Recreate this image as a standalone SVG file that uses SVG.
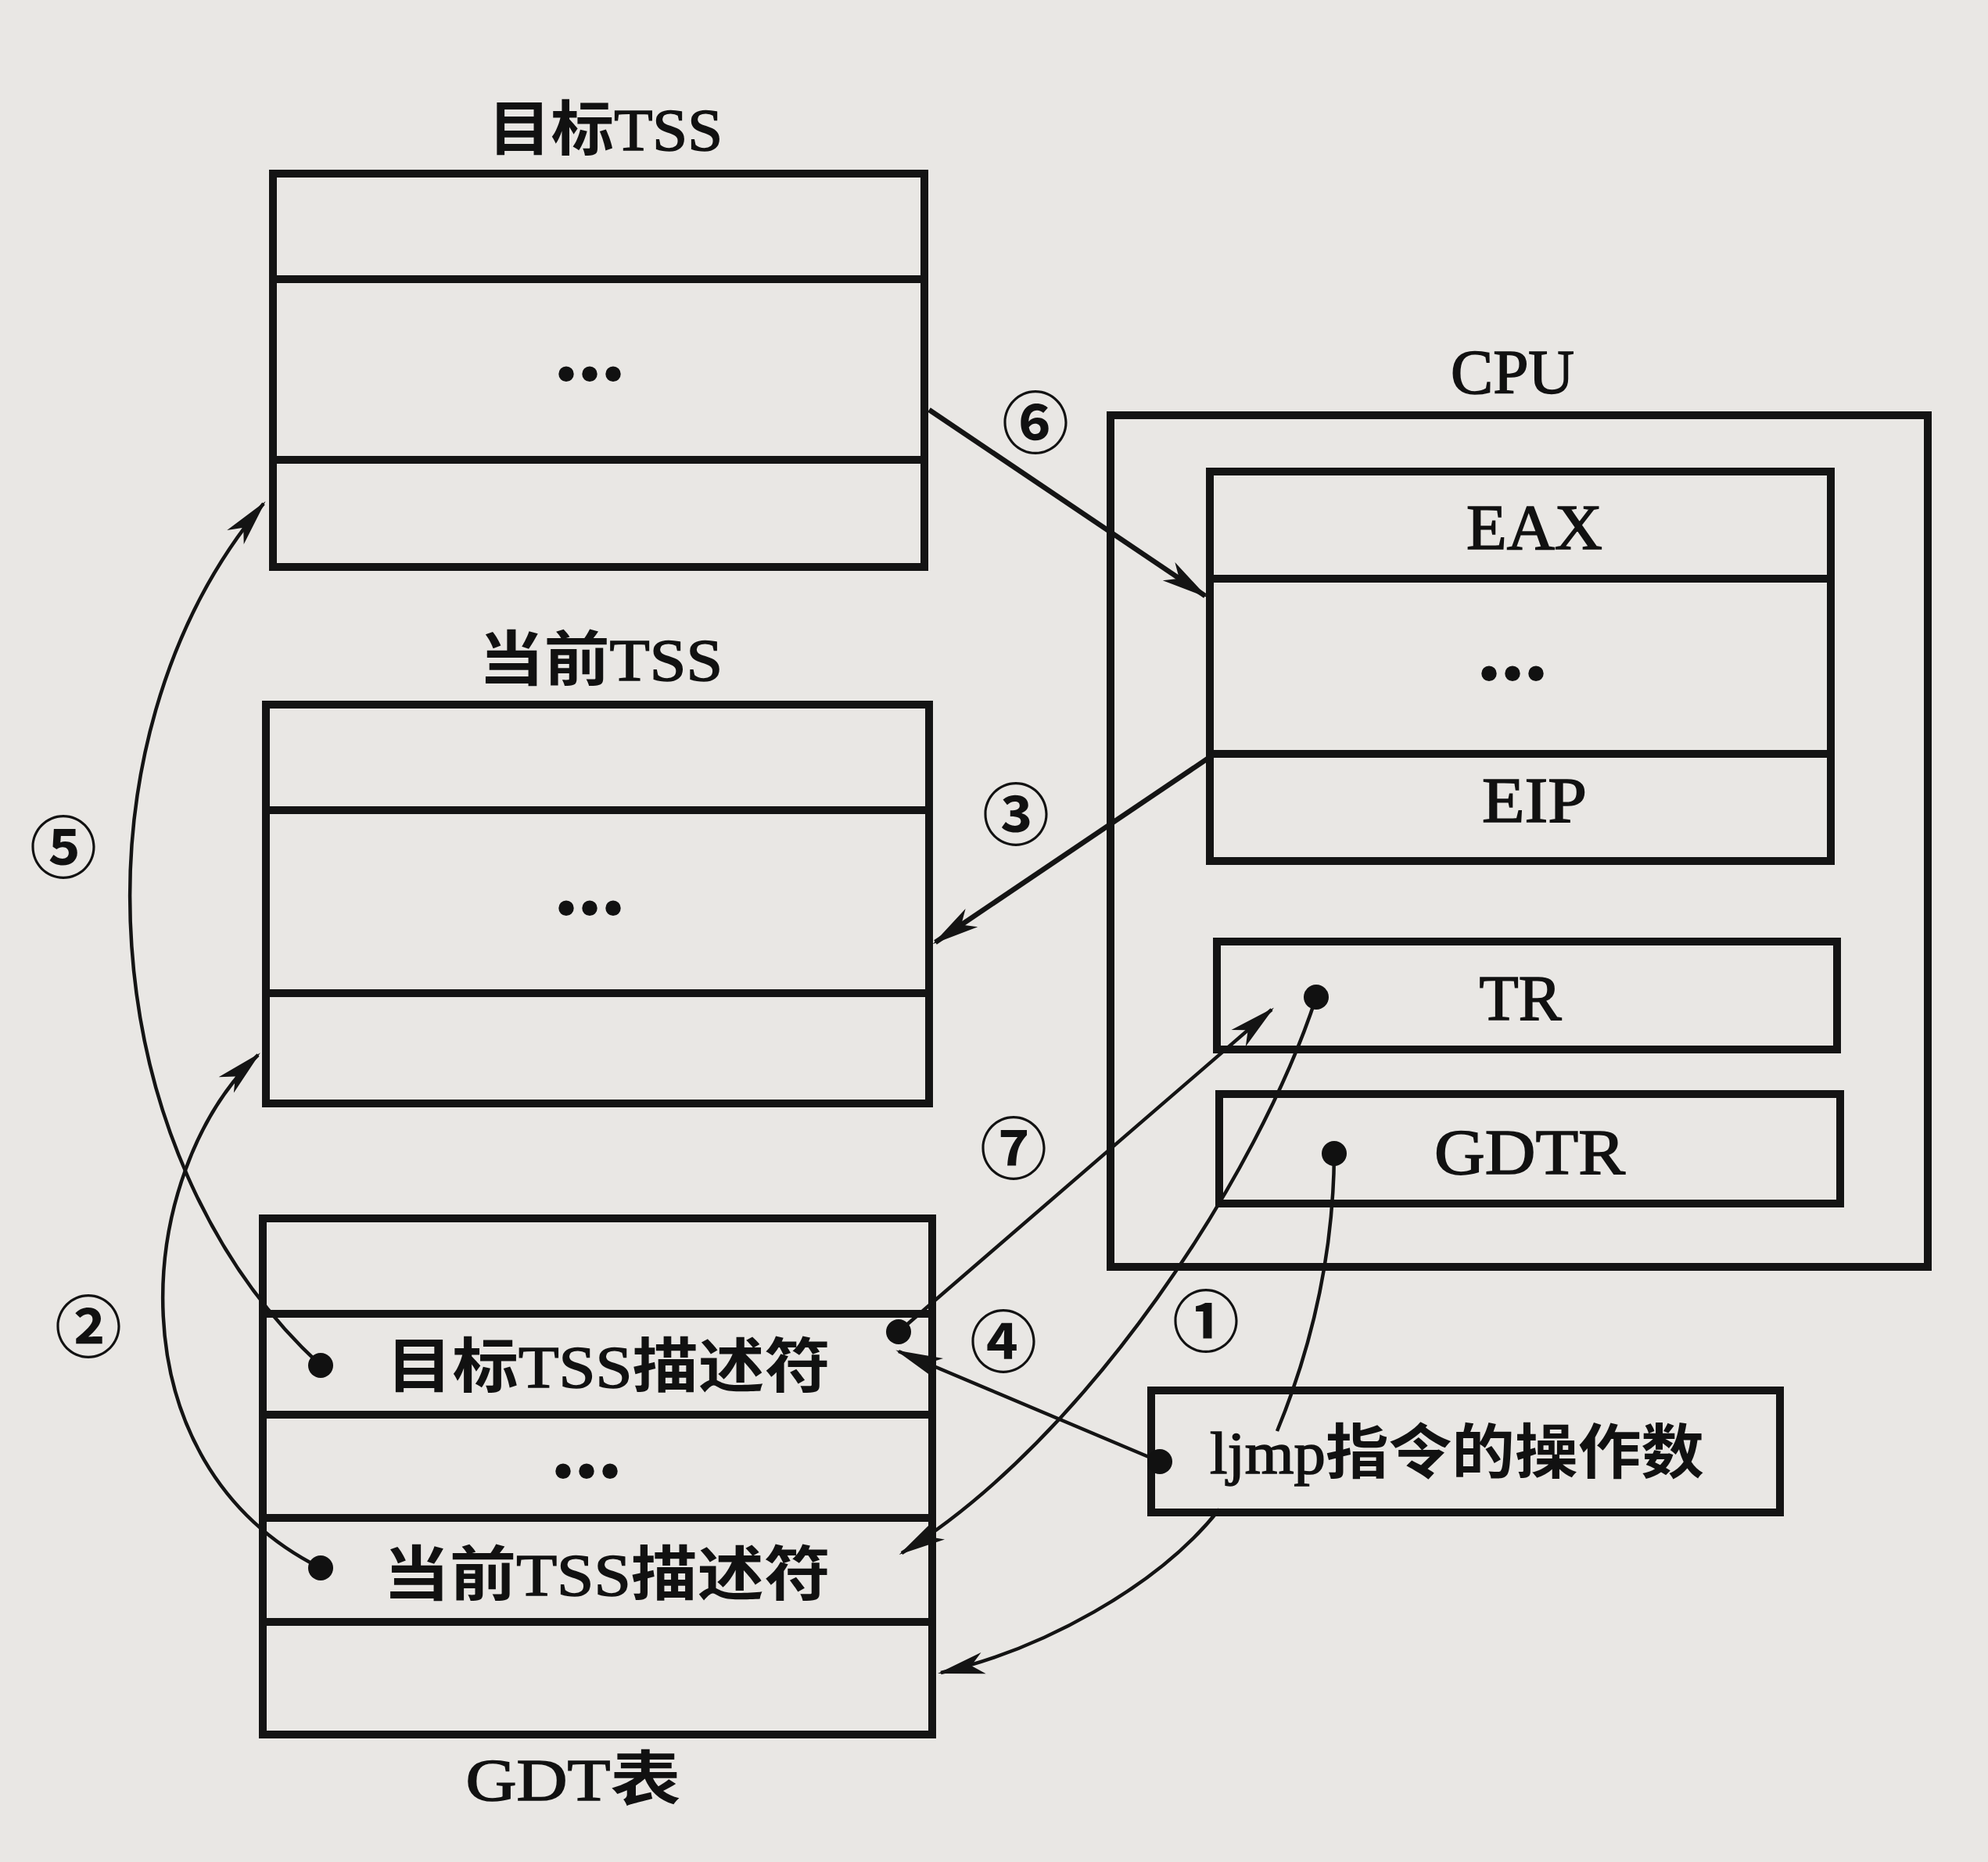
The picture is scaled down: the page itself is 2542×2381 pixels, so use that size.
<svg xmlns="http://www.w3.org/2000/svg" width="2542" height="2381" viewBox="0 0 2542 2381">
<style>
.box{fill:none;stroke:#141414;stroke-width:10;stroke-linejoin:miter}
.row{stroke:#141414;stroke-width:10}
.t{font-family:"Liberation Serif","Noto Sans CJK SC",serif;fill:#111;stroke:#111;stroke-width:1.6;text-anchor:middle}
.cj{font-family:"Noto Sans CJK SC","Liberation Sans",sans-serif;font-weight:700;stroke:none}
.num{font-family:"Noto Sans CJK SC","DejaVu Sans",sans-serif;font-weight:700;font-size:86px;fill:#111;text-anchor:middle;dominant-baseline:central}
.dots{font-family:"Liberation Serif",serif;font-weight:700;font-size:120px;fill:#111;text-anchor:middle}
.c{fill:none;stroke:#141414;stroke-width:4.5}
.c6{fill:none;stroke:#141414;stroke-width:6.5}
.dot{fill:#111}
</style>
<defs>
<marker id="ah" markerUnits="userSpaceOnUse" viewBox="-64 -17 70 34" markerWidth="70" markerHeight="34" refX="-4" refY="0" orient="auto">
<path d="M0,0 L-60,-14 L-44,0 L-60,14 Z" fill="#141414"/>
</marker>
</defs>
<rect x="0" y="0" width="2542" height="2381" fill="#e9e7e4"/>

<g id="target-tss">
<text class="t" x="774" y="192" font-size="76" textLength="300" lengthAdjust="spacingAndGlyphs"><tspan class="cj">目标</tspan>TSS</text>
<rect class="box" x="349" y="222" width="833" height="503"/>
<line class="row" x1="349" y1="357" x2="1182" y2="357"/>
<line class="row" x1="349" y1="588" x2="1182" y2="588"/>
<text class="dots" x="754" y="486">...</text>
</g>

<g id="current-tss">
<text class="t" x="768" y="870" font-size="76" textLength="312" lengthAdjust="spacingAndGlyphs"><tspan class="cj">当前</tspan>TSS</text>
<rect class="box" x="340" y="901" width="848" height="510"/>
<line class="row" x1="340" y1="1036" x2="1188" y2="1036"/>
<line class="row" x1="340" y1="1270" x2="1188" y2="1270"/>
<text class="dots" x="754" y="1169">...</text>
</g>

<g id="gdt">
<rect class="box" x="336" y="1558" width="856" height="660"/>
<line class="row" x1="336" y1="1680" x2="1192" y2="1680"/>
<line class="row" x1="336" y1="1809" x2="1192" y2="1809"/>
<line class="row" x1="336" y1="1941" x2="1192" y2="1941"/>
<line class="row" x1="336" y1="2074" x2="1192" y2="2074"/>
<text class="t" x="778" y="1774" font-size="76" textLength="568" lengthAdjust="spacingAndGlyphs"><tspan class="cj">目标</tspan>TSS<tspan class="cj">描述符</tspan></text>
<text class="dots" x="750" y="1889">...</text>
<text class="t" x="776" y="2040" font-size="76" textLength="572" lengthAdjust="spacingAndGlyphs"><tspan class="cj">当前</tspan>TSS<tspan class="cj">描述符</tspan></text>
<text class="t" x="733" y="2302" font-size="76" textLength="275" lengthAdjust="spacingAndGlyphs">GDT<tspan class="cj">表</tspan></text>
</g>

<g id="cpu">
<text class="t" x="1934" y="503" font-size="80" textLength="158" lengthAdjust="spacingAndGlyphs">CPU</text>
<rect class="box" x="1420" y="531" width="1045" height="1089"/>
</g>

<g id="registers">
<rect class="box" x="1547" y="603" width="794" height="498"/>
<line class="row" x1="1547" y1="740" x2="2341" y2="740"/>
<line class="row" x1="1547" y1="964" x2="2341" y2="964"/>
<text class="t" x="1962" y="702" font-size="82" textLength="174" lengthAdjust="spacingAndGlyphs">EAX</text>
<text class="dots" x="1934" y="869">...</text>
<text class="t" x="1962" y="1051" font-size="82" textLength="134" lengthAdjust="spacingAndGlyphs">EIP</text>
</g>

<g id="tr">
<rect class="box" x="1556" y="1204" width="793" height="138"/>
<text class="t" x="1944" y="1304" font-size="82" textLength="105" lengthAdjust="spacingAndGlyphs">TR</text>
</g>

<g id="gdtr">
<rect class="box" x="1559" y="1399" width="794" height="140"/>
<text class="t" x="1956" y="1501" font-size="82" textLength="244" lengthAdjust="spacingAndGlyphs">GDTR</text>
</g>

<g id="ljmp-operand">
<rect class="box" x="1472" y="1778" width="804" height="156"/>
<text class="t" x="1863" y="1884" font-size="76" textLength="632" lengthAdjust="spacingAndGlyphs">ljmp<tspan class="cj">指令的操作数</tspan></text>
</g>

<g id="connectors">
<path class="c6" d="M1188,524 L1541,762" marker-end="url(#ah)"/>
<path class="c6" d="M1553,964 L1196,1205" marker-end="url(#ah)"/>
<path class="c" d="M410,1746 C120,1480 80,950 337,644" marker-end="url(#ah)"/>
<path class="c" d="M410,2005 C140,1870 170,1500 330,1349" marker-end="url(#ah)"/>
<path class="c" d="M1149,1703 L1626,1291" marker-end="url(#ah)"/>
<path class="c" d="M1483,1869 L1149,1728" marker-end="url(#ah)"/>
<path class="c" d="M1683,1275 C1610,1500 1390,1840 1153,1986" marker-end="url(#ah)"/>
<path class="c" d="M1706,1475 C1705,1620 1670,1740 1633,1830"/>
<path class="c" d="M1559,1930 C1480,2030 1330,2110 1203,2139" marker-end="url(#ah)"/>
<circle class="dot" cx="410" cy="1746" r="16"/>
<circle class="dot" cx="410" cy="2005" r="16"/>
<circle class="dot" cx="1149" cy="1703" r="16"/>
<circle class="dot" cx="1683" cy="1275" r="16"/>
<circle class="dot" cx="1706" cy="1475" r="16"/>
<circle class="dot" cx="1483" cy="1869" r="16"/>
<text class="num" x="1324" y="535">⑥</text>
<text class="num" x="1299" y="1036">③</text>
<text class="num" x="81" y="1078">⑤</text>
<text class="num" x="1296" y="1463">⑦</text>
<text class="num" x="1283" y="1710">④</text>
<text class="num" x="1542" y="1684">①</text>
<text class="num" x="113" y="1691">②</text>
</g>
</svg>
